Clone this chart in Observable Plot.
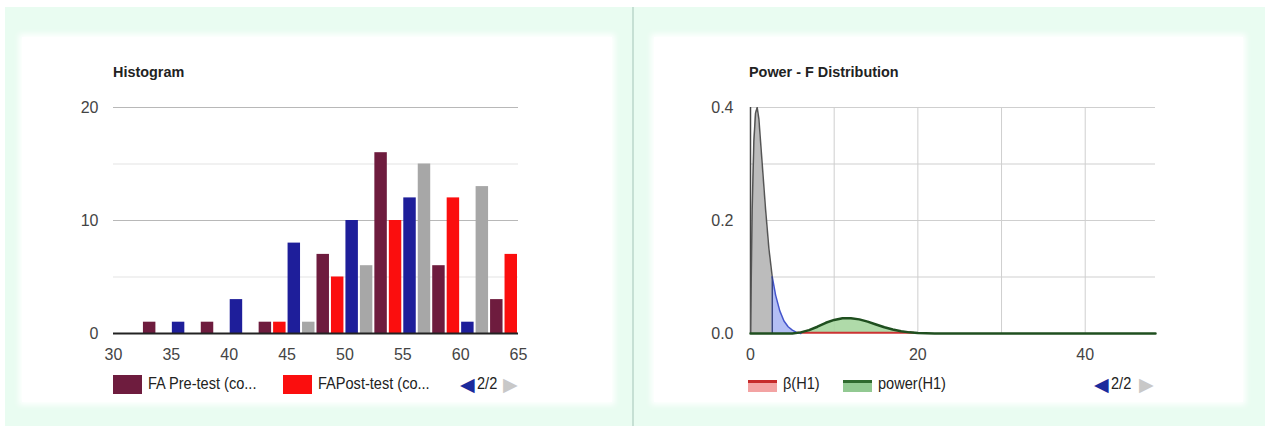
<!DOCTYPE html>
<html><head><meta charset="utf-8">
<script src="https://cdn.jsdelivr.net/npm/d3@7"></script>
<script src="https://cdn.jsdelivr.net/npm/@observablehq/plot@0.6"></script>
<style>
html,body{margin:0;padding:0;}
body{width:1265px;height:426px;position:relative;overflow:hidden;background:#fff;
 font-family:"Liberation Sans Narrow","Arial Narrow","Liberation Sans",Arial,sans-serif;}
#bg{position:absolute;left:5px;top:7px;width:1260px;height:419px;background:#e9fcf1;}
.panel{position:absolute;top:37px;height:365px;background:#fff;box-shadow:0 0 6px 3px #fff;}
#divider{position:absolute;left:632px;top:7px;width:2px;height:419px;background:#c6e0d4;}
.title{position:absolute;font-weight:bold;font-size:15px;color:#222;line-height:16px;transform:scaleX(0.96);transform-origin:left center;white-space:nowrap;}
.abs{position:absolute;}
.lg{position:absolute;font-size:16px;color:#222;line-height:18px;white-space:nowrap;transform:scaleX(0.91);transform-origin:left center;}
.sw{position:absolute;}
.arrow{position:absolute;font-family:"DejaVu Sans",sans-serif;font-size:19px;line-height:20px;}
</style></head>
<body>
<div id="bg"></div>
<div class="panel" style="left:22px;width:590px;"></div>
<div class="panel" style="left:654px;width:589px;"></div>
<div id="divider"></div>
<div class="title" style="left:113px;top:64px;">Histogram</div>
<div class="title" style="left:749px;top:64px;">Power - F Distribution</div>
<div id="left" class="abs" style="left:22px;top:90px;"></div>
<div id="right" class="abs" style="left:652px;top:90px;"></div>

<div class="sw" style="left:113px;top:375px;width:29px;height:19px;background:#6e1c3e;"></div>
<div class="lg" style="left:148px;top:375px;">FA Pre-test (co...</div>
<div class="sw" style="left:283px;top:375px;width:29px;height:19px;background:#fb0e0e;"></div>
<div class="lg" style="left:318px;top:375px;">FAPost-test (co...</div>
<div class="arrow" style="left:460px;top:374px;color:#1c2a9c;">◀</div>
<div class="lg" style="left:477px;top:375px;">2/2</div>
<div class="arrow" style="left:503px;top:374px;color:#c8c8c8;">▶</div>

<div class="sw" style="left:748px;top:380px;width:29px;height:9px;background:#f3a3a3;border-top:3px solid #c62a2a;"></div>
<div class="lg" style="left:783px;top:375px;">β(H1)</div>
<div class="sw" style="left:843px;top:380px;width:29px;height:9px;background:#92c992;border-top:3px solid #2f6a2f;"></div>
<div class="lg" style="left:878px;top:375px;">power(H1)</div>
<div class="arrow" style="left:1094px;top:374px;color:#1c2a9c;">◀</div>
<div class="lg" style="left:1111px;top:375px;">2/2</div>
<div class="arrow" style="left:1139px;top:374px;color:#c8c8c8;">▶</div>

<script>
// ---------- Histogram data ----------
const bucketStarts = [30, 35, 40, 45, 50, 55, 60];
const bucketSize = 5;
const seriesNames = ["Series 1", "Series 2", "FA Pre-test (co...", "FAPost-test (co..."];
const seriesColors = ["#1e1e9a", "#a7a7a7", "#6e1c3e", "#fb0e0e"];
const series1Counts = [0, 1, 3, 8, 10, 12, 1];
const series2Counts = [0, 0, 0, 1, 6, 15, 13];
const preTestCounts = [1, 1, 1, 7, 16, 6, 3];
const postTestCounts = [0, 0, 1, 5, 10, 12, 7];
const histXTicks = [30, 35, 40, 45, 50, 55, 60, 65];
const histYTicks = [0, 10, 20];
const histMajorGrid = [10, 20];
const histMinorGrid = [5, 15];

// ---------- Power chart data ----------
const nullX = [0, 0.2, 0.4, 0.6, 0.8, 1.0, 1.4, 1.8, 2.2, 2.6];
const nullY = [0, 0.22, 0.34, 0.39, 0.4, 0.38, 0.3, 0.22, 0.15, 0.1];
const alphaX = [2.6, 3.0, 3.5, 4.0, 4.5, 5.0, 5.5, 6.0];
const alphaY = [0.1, 0.068, 0.04, 0.022, 0.012, 0.006, 0.002, 0];
const criticalF = 2.6;
const criticalDensity = 0.1;
const powerX = [0, 5, 6, 7, 8, 9, 10, 11, 12, 13, 14, 15, 16, 17, 18, 19, 20, 22, 30, 40, 48.4];
const powerY = [0, 0, 0.002, 0.006, 0.012, 0.019, 0.024, 0.027, 0.027, 0.025, 0.021, 0.016, 0.011, 0.007, 0.004, 0.002, 0.001, 0, 0, 0, 0];
const betaX = [5.6, 10, 15, 19.5];
const betaY = [0.0015, 0.0015, 0.0015, 0.0015];
const powXTicks = [0, 20, 40];
const powYTicks = [0, 0.2, 0.4];
const powHGrid = [0.1, 0.2, 0.3, 0.4];
const powVGrid = [10, 20, 30, 40];

const FONT = '"Liberation Sans Narrow","Arial Narrow","Liberation Sans",Arial,sans-serif';

// build histogram table
const countsBySeries = [series1Counts, series2Counts, preTestCounts, postTestCounts];
const histRows = [];
countsBySeries.forEach((counts, k) => {
  counts.forEach((c, i) => {
    if (c > 0) histRows.push({bin: bucketStarts[i], k, series: seriesNames[k], count: c});
  });
});
const slot = bucketSize / seriesNames.length;

const left = Plot.plot({
  width: 590, height: 280,
  marginLeft: 91, marginRight: 94, marginTop: 17, marginBottom: 37,
  style: {fontFamily: FONT, fontSize: "16px", color: "#444", background: "transparent"},
  x: {domain: [30, 65]},
  y: {domain: [0, 20]},
  color: {domain: seriesNames, range: seriesColors},
  marks: [
    Plot.ruleY(histMinorGrid, {stroke: "#e3e3e3", strokeWidth: 1}),
    Plot.ruleY(histMajorGrid, {stroke: "#b8b8b8", strokeWidth: 1}),
    Plot.rectY(histRows, {
      x1: d => d.bin + d.k * slot, x2: d => d.bin + (d.k + 1) * slot,
      y1: 0, y2: "count", fill: "series", insetLeft: 1, insetRight: 1
    }),
    Plot.ruleY([0], {stroke: "#222", strokeWidth: 2}),
    Plot.axisX({ticks: histXTicks, tickSize: 0, tickPadding: 15, label: null, tickFormat: d => d}),
    Plot.axisY({ticks: histYTicks, tickSize: 0, tickPadding: 15, label: null, tickFormat: d => d})
  ]
});
document.getElementById("left").appendChild(left);

const zip = (xs, ys) => xs.map((x, i) => ({x, y: ys[i]}));
const nullData = zip(nullX, nullY);
const alphaData = zip(alphaX, alphaY);
const powerData = zip(powerX, powerY);
const betaData = zip(betaX, betaY);

const right = Plot.plot({
  width: 591, height: 280,
  marginLeft: 98, marginRight: 88, marginTop: 17, marginBottom: 37,
  style: {fontFamily: FONT, fontSize: "16px", color: "#444", background: "transparent"},
  x: {domain: [0, 48.4]},
  y: {domain: [0, 0.4]},
  marks: [
    Plot.ruleY(powHGrid, {stroke: "#cfcfcf", strokeWidth: 1}),
    Plot.ruleX(powVGrid, {stroke: "#cfcfcf", strokeWidth: 1}),
    Plot.areaY(nullData, {x: "x", y: "y", fill: "#bcbcbc", clip: true}),
    Plot.areaY(alphaData, {x: "x", y: "y", fill: "#b3bef4", clip: true}),
    Plot.areaY(powerData, {x: "x", y: "y", fill: "#a6d6a0", fillOpacity: 0.9}),
    Plot.line(betaData, {x: "x", y: "y", stroke: "#cc3333", strokeWidth: 2}),
    Plot.ruleX([0], {y1: 0, y2: 0.4, stroke: "#444", strokeWidth: 1.5}),
    Plot.line(nullData, {x: "x", y: "y", stroke: "#555", strokeWidth: 1.5, clip: true}),
    Plot.line(alphaData, {x: "x", y: "y", stroke: "#4455cc", strokeWidth: 1.5}),
    Plot.ruleX([criticalF], {y1: 0, y2: criticalDensity, stroke: "#3a4680", strokeWidth: 1.5}),
    Plot.line(powerData, {x: "x", y: "y", stroke: "#1f4f1f", strokeWidth: 2.5}),
    Plot.axisX({ticks: powXTicks, tickSize: 0, tickPadding: 15, label: null, tickFormat: d => d}),
    Plot.axisY({ticks: powYTicks, tickSize: 0, tickPadding: 17, label: null, tickFormat: d3.format(".1f")})
  ]
});
document.getElementById("right").appendChild(right);
</script>
</body></html>
